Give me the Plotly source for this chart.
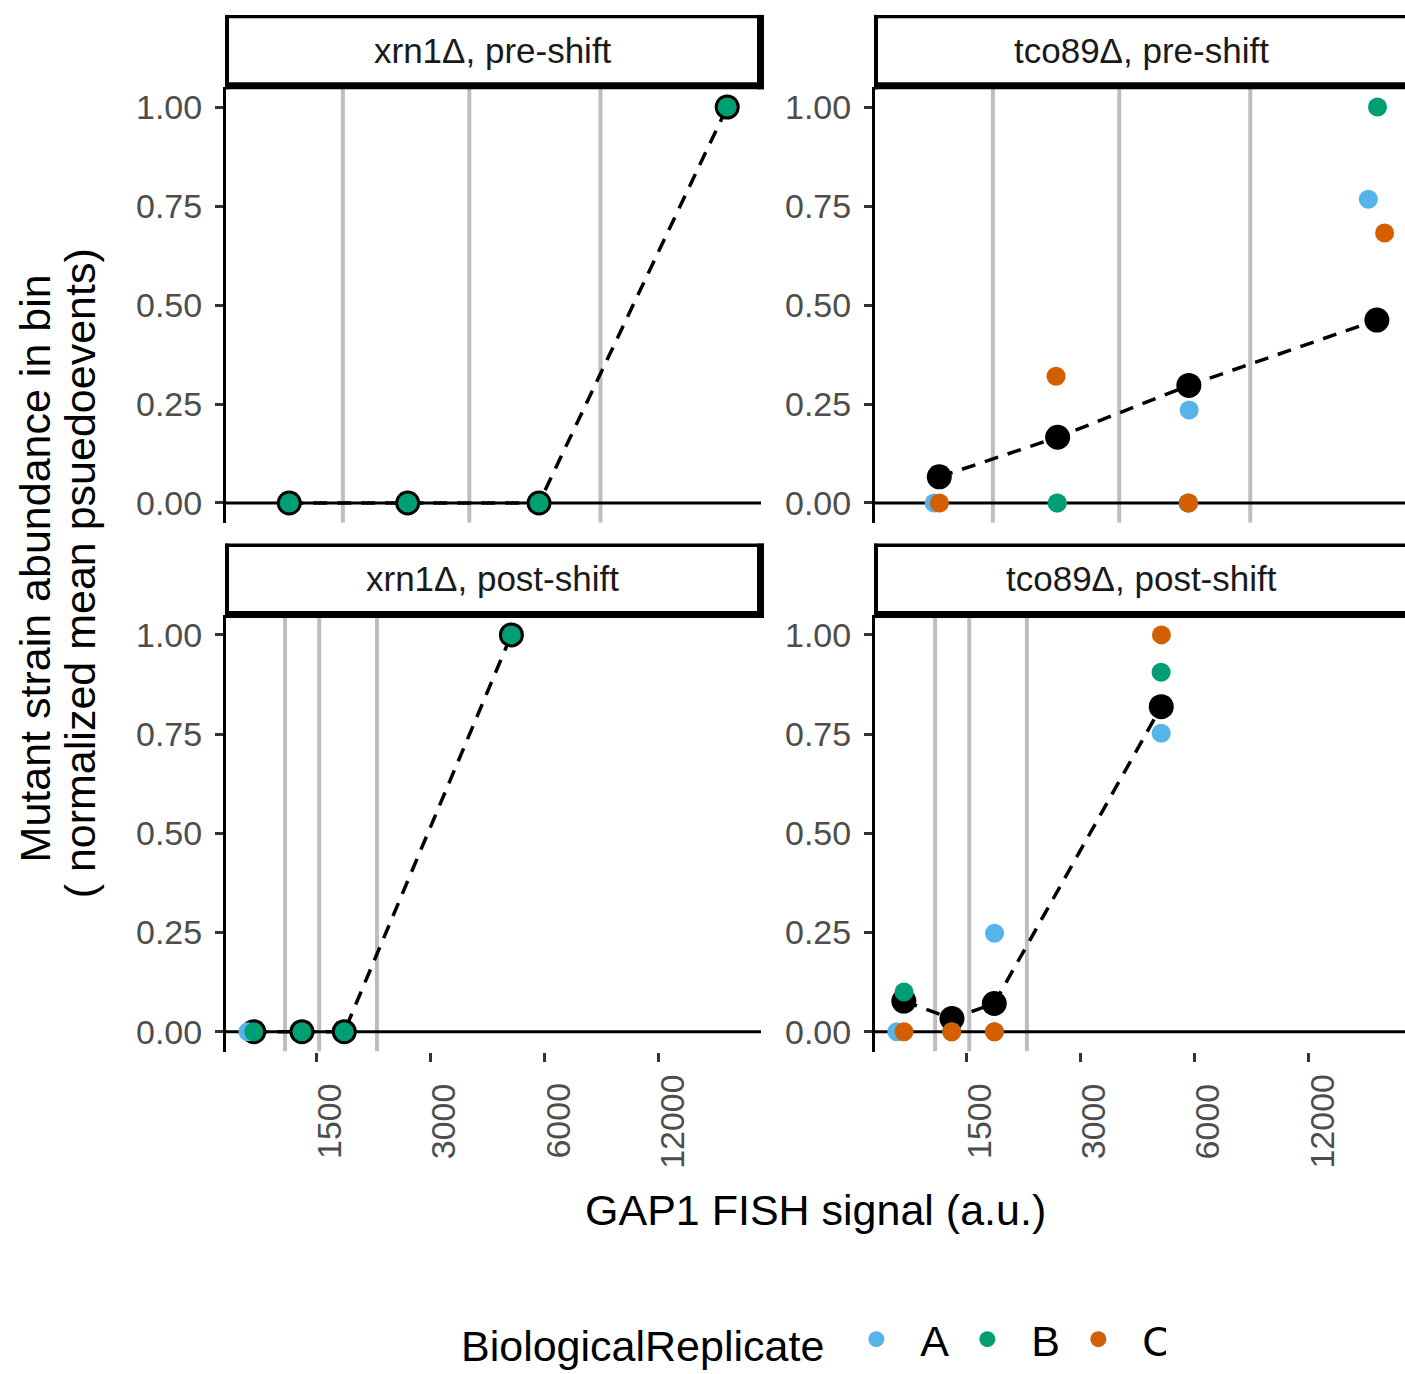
import math
import plotly.graph_objects as go

W, H = 1405, 1374
FONT = "Liberation Sans, Arial, Helvetica, sans-serif"

# ---------------- data ----------------
replicates = ["A", "B", "C"]
rep_colors = {"A": "#56B4E9", "B": "#009E73", "C": "#D55E00"}

x_ticks = [1500, 3000, 6000, 12000]
x_tick_labels = ["1500", "3000", "6000", "12000"]
y_ticks = [0, 0.25, 0.5, 0.75, 1.0]
y_tick_labels = ["0.00", "0.25", "0.50", "0.75", "1.00"]

pre_bins = [1275, 2615, 5800, 18160]
post_bins = [1028, 1377, 1780, 4905]
pre_gates = [1765, 3800, 8420]
post_gates = [1243, 1529, 2170]

# xrn1 pre-shift
xrn1_pre_mean = [0, 0, 0, 1.0]
xrn1_pre_B_x = [1275, 2615, 5800, 18160]
xrn1_pre_B_y = [0, 0, 0, 1.0]

# xrn1 post-shift
xrn1_post_mean = [0, 0, 0, 1.0]
xrn1_post_A_x = [992]
xrn1_post_A_y = [0]
xrn1_post_B_x = [1028, 1377, 1780, 4905]
xrn1_post_B_y = [0, 0, 0, 1.0]

# tco89 pre-shift
tco89_pre_mean = [0.066, 0.166, 0.297, 0.462]
tco89_pre_A_x = [1236, 2609, 5810, 17240]
tco89_pre_A_y = [0, 0, 0.235, 0.767]
tco89_pre_B_x = [2609, 5770, 18230]
tco89_pre_B_y = [0, 0, 1.0]
tco89_pre_C_x = [1276, 2590, 5795, 19030]
tco89_pre_C_y = [0, 0.32, 0, 0.682]

# tco89 post-shift
tco89_post_mean = [0.077, 0.033, 0.071, 0.819]
tco89_post_A_x = [985, 1783, 4905]
tco89_post_A_y = [0, 0.248, 0.752]
tco89_post_B_x = [1029, 1375, 1782, 4900]
tco89_post_B_y = [0.10, 0, 0, 0.906]
tco89_post_C_x = [1029, 1375, 1782, 4910]
tco89_post_C_y = [0, 0, 0, 1.0]

strip_titles = ["xrn1Δ, pre-shift", "tco89Δ, pre-shift",
                "xrn1Δ, post-shift", "tco89Δ, post-shift"]

# ---------------- layout geometry (pixels) ----------------
def px(x):
    return x / W


def py(y):
    return 1 - y / H


col_px = [(226, 761), (875, 1405)]
row_px = [(88, 527), (620, 1060)]
x_ranges = [[math.log10(868.8), math.log10(22290)],
            [math.log10(863), math.log10(21540)]]

fig = go.Figure()

panels = [
    (1, 0, 0, pre_bins, pre_gates, xrn1_pre_mean,
     {"B": (xrn1_pre_B_x, xrn1_pre_B_y)}),
    (2, 1, 0, pre_bins, pre_gates, tco89_pre_mean,
     {"A": (tco89_pre_A_x, tco89_pre_A_y), "B": (tco89_pre_B_x, tco89_pre_B_y),
      "C": (tco89_pre_C_x, tco89_pre_C_y)}),
    (3, 0, 1, post_bins, post_gates, xrn1_post_mean,
     {"A": (xrn1_post_A_x, xrn1_post_A_y), "B": (xrn1_post_B_x, xrn1_post_B_y)}),
    (4, 1, 1, post_bins, post_gates, tco89_post_mean,
     {"A": (tco89_post_A_x, tco89_post_A_y), "B": (tco89_post_B_x, tco89_post_B_y),
      "C": (tco89_post_C_x, tco89_post_C_y)}),
]

shown = set()
for idx, col, row, bins, gates, mean, reps in panels:
    xa = "x" if idx == 1 else f"x{idx}"
    ya = "y" if idx == 1 else f"y{idx}"
    gx, gy = [], []
    for g in gates:
        gx += [g, g, None]
        gy += [-0.05, 1.05, None]
    fig.add_trace(go.Scatter(x=gx, y=gy, mode="lines", xaxis=xa, yaxis=ya,
                             line=dict(color="#BEBEBE", width=4),
                             showlegend=False, hoverinfo="skip"))
    lo, hi = x_ranges[col]
    fig.add_trace(go.Scatter(x=[10 ** lo, 10 ** hi], y=[0, 0], mode="lines",
                             xaxis=xa, yaxis=ya,
                             line=dict(color="black", width=3),
                             showlegend=False, hoverinfo="skip"))
    fig.add_trace(go.Scatter(x=bins, y=mean, mode="lines+markers",
                             xaxis=xa, yaxis=ya,
                             line=dict(color="black", width=3.5, dash="14px,10px"),
                             marker=dict(color="black", size=25),
                             showlegend=False, hoverinfo="skip"))
    for r in replicates:
        if r not in reps:
            continue
        xs, ys = reps[r]
        fig.add_trace(go.Scatter(x=xs, y=ys, mode="markers", xaxis=xa, yaxis=ya,
                                 name=r, legendgroup=r,
                                 legendrank=replicates.index(r) + 1,
                                 showlegend=(r not in shown),
                                 marker=dict(color=rep_colors[r], size=19,
                                             line=dict(width=0))))
        shown.add(r)

layout = dict(
    width=W, height=H,
    margin=dict(l=0, r=0, t=0, b=0),
    paper_bgcolor="white", plot_bgcolor="white",
    font=dict(family=FONT, color="black"),
    showlegend=True,
)

for idx, col, row, *_ in panels:
    xk = "xaxis" if idx == 1 else f"xaxis{idx}"
    yk = "yaxis" if idx == 1 else f"yaxis{idx}"
    ya = "y" if idx == 1 else f"y{idx}"
    xa = "x" if idx == 1 else f"x{idx}"
    bottom = row == 1
    layout[xk] = dict(
        domain=[px(col_px[col][0]), px(col_px[col][1])],
        anchor=ya, type="log", range=x_ranges[col],
        showgrid=False, zeroline=False, showline=False,
        tickvals=x_ticks, ticktext=x_tick_labels,
        ticks="outside" if bottom else "", ticklen=9, tickwidth=3,
        tickcolor="#333333", showticklabels=False, fixedrange=True,
    )
    layout[yk] = dict(
        domain=[py(row_px[row][1]), py(row_px[row][0])],
        anchor=xa, range=[-0.05, 1.05],
        showgrid=False, zeroline=False,
        showline=True, linecolor="black", linewidth=3,
        tickvals=y_ticks, ticktext=y_tick_labels,
        ticks="outside", ticklen=8, tickwidth=3, tickcolor="#333333",
        tickfont=dict(size=34, color="#4D4D4D", family=FONT),
        ticklabelstandoff=6, fixedrange=True,
    )

annotations = []
shapes = []

strip_boxes = [(225, 764, 15, 90), (874, 1413, 15, 90),
               (225, 764, 548, 623), (874, 1413, 548, 623)]
for (x0, x1, y0, y1), title in zip(strip_boxes, strip_titles):
    edges = [(x0, x1, y0, y0 + 3.5),
             (x0, x0 + 4, y0, y1),
             (x1 - 7, x1, y0, y1),
             (x0, x1, y1 - 7, y1)]
    for ex0, ex1, ey0, ey1 in edges:
        shapes.append(dict(type="rect", xref="paper", yref="paper",
                           x0=px(ex0), x1=px(ex1), y0=py(ey1), y1=py(ey0),
                           fillcolor="black", line=dict(width=0), layer="above"))
    annotations.append(dict(text=title, xref="paper", yref="paper",
                            x=px((x0 + x1) / 2 - 2), y=py((y0 + y1) / 2 - 2),
                            showarrow=False, xanchor="center", yanchor="middle",
                            font=dict(size=35, color="#1A1A1A", family=FONT)))

for xa in ["x3", "x4"]:
    for v, t in zip(x_ticks, x_tick_labels):
        annotations.append(dict(text=t, xref=xa, yref="paper",
                                x=math.log10(v), y=py(1130), xshift=13,
                                textangle=-90, showarrow=False,
                                xanchor="center", yanchor="middle",
                                font=dict(size=34, color="#4D4D4D", family=FONT)))

annotations.append(dict(text="Mutant strain abundance in bin", xref="paper", yref="paper",
                        x=px(35), y=py(573), textangle=-90, showarrow=False,
                        xanchor="center", yanchor="middle",
                        font=dict(size=43, color="black", family=FONT)))
annotations.append(dict(text="( normalized mean psuedoevents)", xref="paper", yref="paper",
                        x=px(80), y=py(578), textangle=-90, showarrow=False,
                        xanchor="center", yanchor="middle",
                        font=dict(size=43, color="black", family=FONT)))
annotations.append(dict(text="GAP1 FISH signal (a.u.)", xref="paper", yref="paper",
                        x=px(815), y=py(1220), showarrow=False,
                        xanchor="center", yanchor="middle",
                        font=dict(size=43, color="black", family=FONT)))

layout["annotations"] = annotations
layout["shapes"] = shapes
layout["legend"] = dict(
    orientation="h", x=px(459), y=py(1350), xanchor="left", yanchor="middle",
    title=dict(text="BiologicalReplicate", side="left",
               font=dict(size=43, color="black", family=FONT)),
    font=dict(size=43, color="black", family=FONT),
    itemsizing="trace", itemwidth=78, entrywidth=18,
    bgcolor="rgba(0,0,0,0)", traceorder="normal",
)

fig.update_layout(**layout)
fig.write_html("out.html")
